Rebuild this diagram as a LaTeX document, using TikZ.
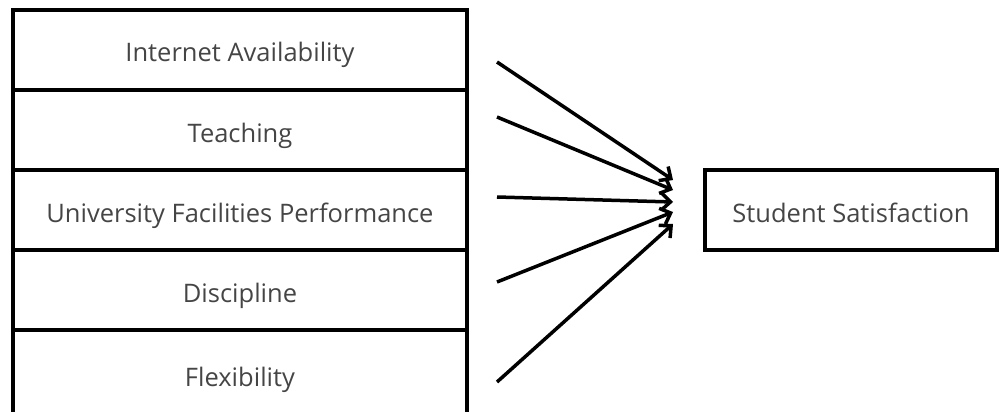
\documentclass[tikz,border=0pt]{standalone}
\usepackage{fontspec}
\setmainfont{Open Sans}
\usetikzlibrary{arrows.meta}
\definecolor{txt}{HTML}{454545}
\tikzset{
  lbl/.style={font=\fontsize{25.5}{28}\selectfont, text=txt, text height=30pt, text depth=6pt},
  leftbox/.style={draw=black, line width=3.5pt, minimum width=454pt, minimum height=80pt, inner sep=0pt, lbl},
  rightbox/.style={draw=black, line width=4pt, minimum width=292pt, minimum height=80pt, inner sep=0pt, lbl},
  arr/.style={line width=3.5pt, -{Straight Barb[length=9pt,width=17pt,line width=3.5pt]}}
}
\begin{document}
\begin{tikzpicture}[x=1pt,y=-1pt]
\useasboundingbox (0,0) rectangle (1001,412);
\node[leftbox] (b1) at (240,50) {Internet Availability};
\node[leftbox] (b2) at (240,130) {Teaching};
\node[leftbox] (b3) at (240,210) {University Facilities Performance};
\node[leftbox] (b4) at (240,290) {Discipline};
\node[leftbox, minimum height=90pt] (b5) at (240,375) {};
\node[lbl, inner sep=0pt] (b5t) at (240,374) {Flexibility};
\node[rightbox] (ss) at (851,210) {Student Satisfaction};
\coordinate (s1) at (497,62);
\coordinate (s2) at (497,117);
\coordinate (s3) at (497,197);
\coordinate (s4) at (497,282);
\coordinate (s5) at (497,382);
\coordinate (e1) at (673,180);
\coordinate (e2) at (673,190);
\coordinate (e3) at (673,202);
\coordinate (e4) at (673,212);
\coordinate (e5) at (673,224);
\draw[arr] (s1) -- (e1);
\draw[arr] (s2) -- (e2);
\draw[arr] (s3) -- (e3);
\draw[arr] (s4) -- (e4);
\draw[arr] (s5) -- (e5);
\end{tikzpicture}
\end{document}
